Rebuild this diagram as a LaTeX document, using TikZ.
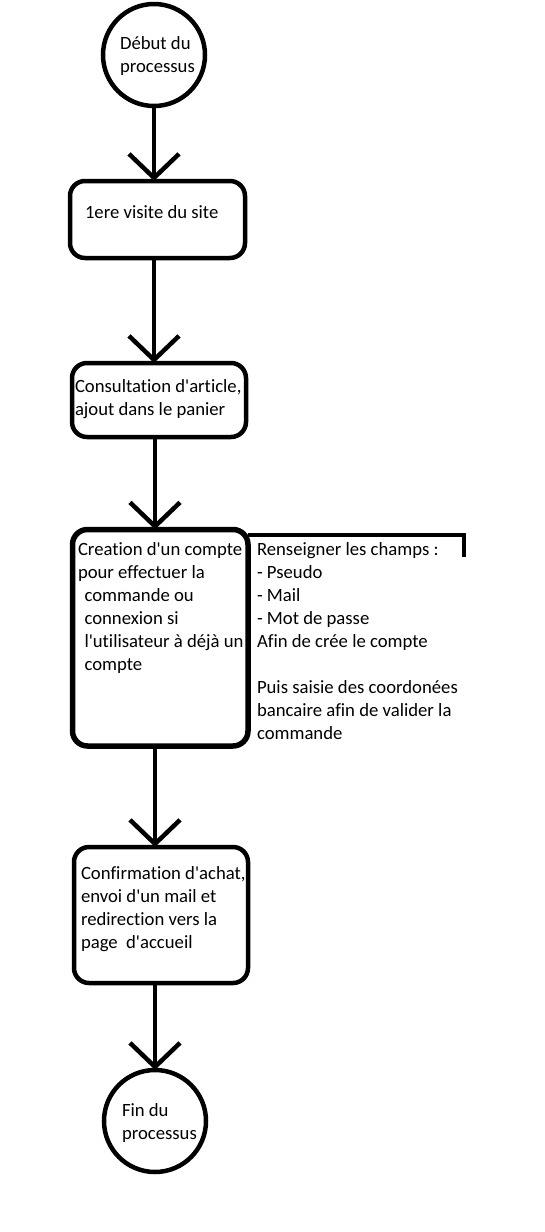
\documentclass[tikz,border=0pt]{standalone}
\usepackage{fontspec}
\newfontfamily\calib[RawFeature={-liga;-clig;-dlig}]{Carlito}
\usetikzlibrary{arrows.meta}
\begin{document}
\begin{tikzpicture}[x=1pt,y=-1pt,
  every node/.style={inner sep=0pt, outer sep=0pt},
  txt/.style={anchor=base west, align=left, font=\calib\fontsize{18.7}{23}\selectfont},
  term/.style={circle, draw, line width=4.5pt, minimum size=102pt},
  stepbox/.style={rectangle, draw, line width=4.5pt, rounded corners=15pt},
  flow/.style={line width=4.5pt, -{Straight Barb[length=24pt,width=50pt]}},
  bracket/.style={line width=3.5pt}]
\useasboundingbox (0,0) rectangle (544,1232);

% terminals and steps
\node[term] (start) at (154,55) {};
\node[stepbox, minimum width=175pt, minimum height=77pt] (b1) at (157.5,219.5) {};
\node[stepbox, minimum width=174pt, minimum height=74pt] (b2) at (159,400) {};
\node[stepbox, minimum width=175.5pt, minimum height=216.5pt, line width=5.5pt] (b3) at (160.25,637.75) {};
\node[stepbox, minimum width=174pt, minimum height=136pt] (b4) at (161,915) {};
\node[term] (end) at (155,1121) {};

% texts (anchor = baseline of the last line)
\node[txt] (tstart) at (120,72) {Début du\\processus};
\node[txt] (t1) at (85,218) {1ere visite du site};
\node[txt] (t2) at (75,415) {Consultation d'article,\\ajout dans le panier};
\node[txt] (t3) at (78,670) {Creation d'un compte\\pour effectuer la\\\hspace*{6.5pt}commande ou\\\hspace*{6.5pt}connexion si\\\hspace*{6.5pt}l'utilisateur à déjà un\\\hspace*{6.5pt}compte};
\node[txt] (note) at (257,739) {Renseigner les champs :\\- Pseudo\\- Mail\\- Mot de passe\\Afin de crée le compte\\[23pt]Puis saisie des coordonées\\bancaire afin de valider la\\commande};
\node[txt] (t4) at (81,948) {Confirmation d'achat,\\envoi d'un mail et\\redirection vers la\\page\ \ d'accueil};
\node[txt] (tend) at (122,1139) {Fin du\\processus};

% connectors
\draw[flow] (start.south) -- (start.south |- b1.north);
\draw[flow] (b1.south -| start) -- (b2.north -| start);
\draw[flow] (b2.south -| 155,0) -- (b3.north -| 155,0);
\draw[flow] (b3.south -| end) -- (b4.north -| end);
\draw[flow] (b4.south -| end) -- (end.north);

% annotation bracket
\coordinate (brend) at (464,557);
\draw[bracket] ([yshift=-5.5pt]b3.north east) -| (brend);
\end{tikzpicture}
\end{document}
